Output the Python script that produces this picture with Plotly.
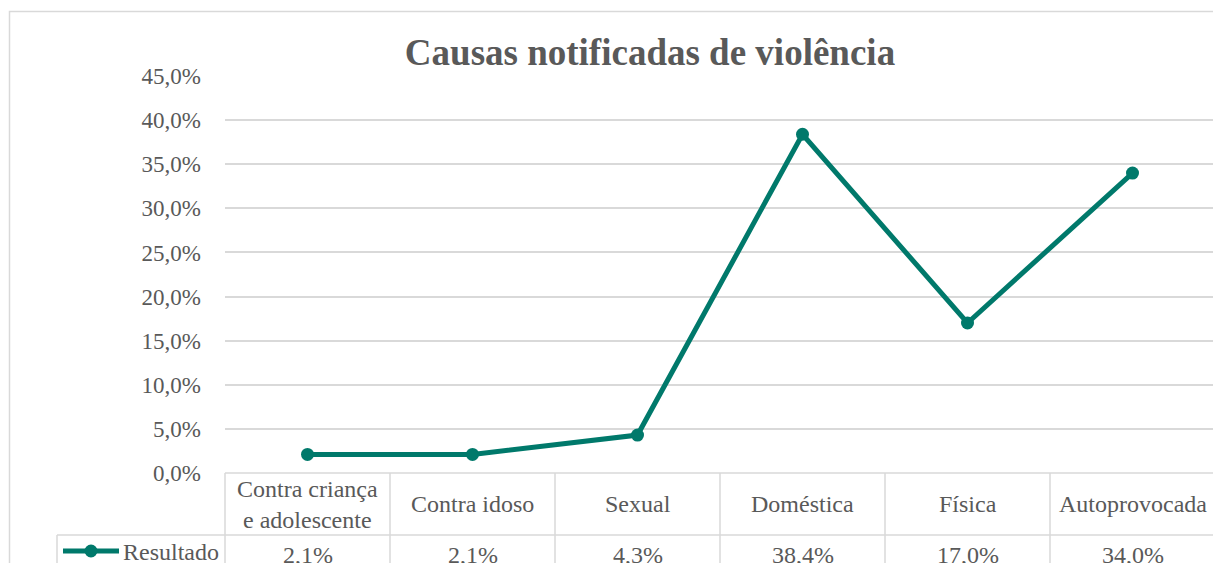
import plotly.graph_objects as go

categories = ["Contra criança<br>e adolescente", "Contra idoso", "Sexual", "Doméstica", "Física", "Autoprovocada"]
values = [0.021, 0.021, 0.043, 0.384, 0.170, 0.340]
value_labels = ["2,1%", "2,1%", "4,3%", "38,4%", "17,0%", "34,0%"]
series_name = "Resultado"
tick_vals = [0, 0.05, 0.10, 0.15, 0.20, 0.25, 0.30, 0.35, 0.40, 0.45]

OFF = 0  # body margin removed via post_script
W, H = 1213, 563
# positions in page pixels
plot_l_p, plot_r_p, plot_t_p, plot_b_p = 225, 1215, 76, 473
ml = plot_l_p - OFF
mt = plot_t_p - OFF
mb = H - (plot_b_p - OFF)
pw = W - ml
ph = H - mt - mb

line_color = "#00796B"
grid_color = "#D9D9D9"
text_color = "#595959"
font_family = "Liberation Serif, Times New Roman, serif"
fs = 23
fs_table = 24

def px(xp):
    return (xp - OFF - ml) / pw

def py(yp):
    return (H - mb - (yp - OFF)) / ph

n = len(categories)
col_w = (plot_r_p - plot_l_p) / n
x_range_r = -0.5 + pw / col_w

fig = go.Figure()
fig.add_trace(go.Scatter(
    x=list(range(n)), y=values, mode="lines+markers", name=series_name,
    line=dict(color=line_color, width=5),
    marker=dict(color=line_color, size=13),
    showlegend=False, cliponaxis=False, hoverinfo="skip",
))

fig.update_layout(
    width=W, height=H,
    margin=dict(l=ml, r=0, t=mt, b=mb, pad=0),
    paper_bgcolor="white", plot_bgcolor="white",
    separators=",.",
    font=dict(family=font_family, color=text_color, size=fs),
    title=dict(text="<b>Causas notificadas de violência</b>", x=(650 - OFF) / W, xanchor="center",
               y=1 - (52 - OFF) / H, yanchor="middle", font=dict(size=37, color=text_color, family=font_family)),
    xaxis=dict(range=[-0.5, x_range_r], showgrid=False, zeroline=False,
               showticklabels=False, showline=False, fixedrange=True),
    yaxis=dict(range=[0, 0.45], tickvals=tick_vals, tickformat=".1%", showgrid=True,
               gridcolor=grid_color, gridwidth=1.5, zeroline=False, showline=False,
               ticks="", ticklabelstandoff=23, tickfont=dict(size=fs, color=text_color), fixedrange=True),
)

shapes = []
def pline(x0, y0, x1, y1):
    shapes.append(dict(type="line", xref="paper", yref="paper",
                       x0=px(x0), x1=px(x1), y0=py(y0), y1=py(y1),
                       line=dict(color=grid_color, width=1.5), layer="below"))

# outer chart border
shapes.append(dict(type="rect", xref="paper", yref="paper", x0=px(9.5), x1=px(1240), y0=py(600), y1=py(11.5),
                   line=dict(color=grid_color, width=1.5), fillcolor="rgba(0,0,0,0)", layer="below"))
# data table grid
row1_b = 535
pline(plot_l_p, plot_b_p, 1230, plot_b_p)
pline(57, row1_b, 1230, row1_b)
pline(57, row1_b, 57, 580)
for k in range(n + 1):
    xk = plot_l_p + k * col_w
    pline(xk, plot_b_p, xk, 580)
# legend key in table
shapes.append(dict(type="line", xref="paper", yref="paper", x0=px(63), x1=px(119), y0=py(551), y1=py(551),
                   line=dict(color=line_color, width=5)))
shapes.append(dict(type="circle", xref="paper", yref="paper", x0=px(84.5), x1=px(97.5), y0=py(557.5), y1=py(544.5),
                   line=dict(color=line_color, width=0), fillcolor=line_color))
fig.update_layout(shapes=shapes)

ann = []
for i, (c, v) in enumerate(zip(categories, value_labels)):
    xc = px(plot_l_p + (i + 0.5) * col_w)
    ann.append(dict(text=c, x=xc, y=py(504), xref="paper", yref="paper", showarrow=False,
                    xanchor="center", yanchor="middle", font=dict(size=fs_table, color=text_color)))
    ann.append(dict(text=v, x=xc, y=py(555), xref="paper", yref="paper", showarrow=False,
                    xanchor="center", yanchor="middle", font=dict(size=fs_table, color=text_color)))
ann.append(dict(text=series_name, x=px(121), y=py(552), xref="paper", yref="paper", showarrow=False,
                xanchor="left", yanchor="middle", font=dict(size=fs_table, color=text_color)))
fig.update_layout(annotations=ann)

fig.write_html("out.html", config={"displayModeBar": False},
               post_script="document.body.style.margin='0';document.body.style.overflow='hidden';")
